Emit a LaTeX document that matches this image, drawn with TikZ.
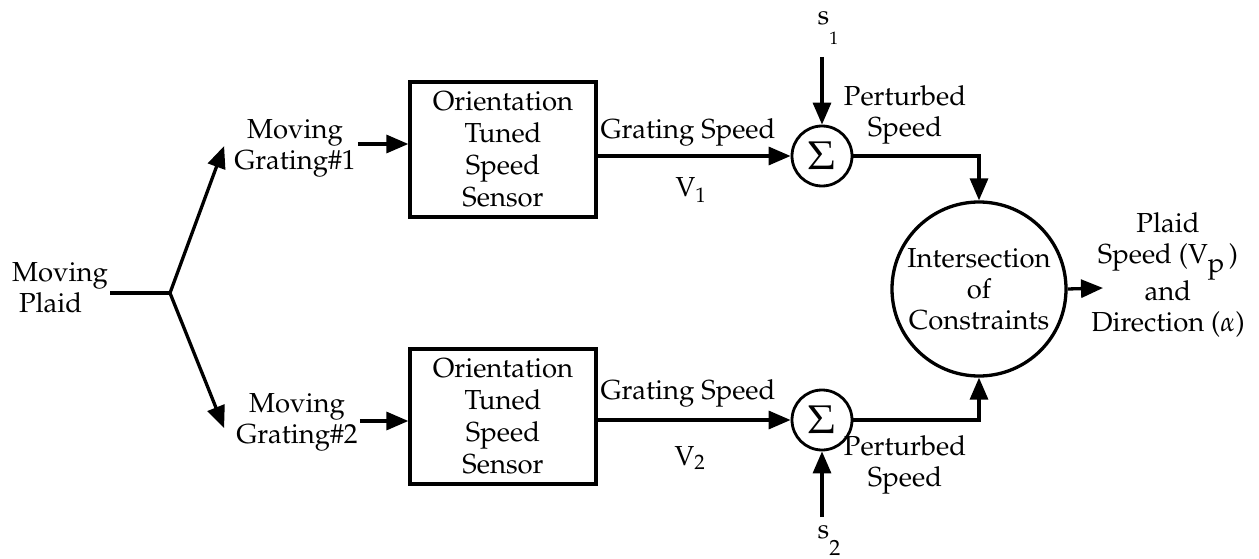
\documentclass[tikz,border=0pt]{standalone}
\usepackage[T1]{fontenc}
\usepackage{mathpazo}
\usetikzlibrary{arrows.meta}
\tikzset{
  lbl/.style={font=\fontsize{27.5}{31}\selectfont, align=center, inner sep=2pt},
  ln/.style={line width=3.3pt},
  ar/.style={line width=3.3pt, -{Triangle[length=22pt,width=18pt]}},
  sensor/.style={draw, line width=3.3pt, minimum width=186pt, minimum height=135pt, inner sep=0pt,
    font=\fontsize{27.5}{32}\selectfont, align=center},
  sumc/.style={draw, circle, line width=2.8pt, minimum size=60pt, inner sep=0pt, font=\fontsize{40}{40}\selectfont},
  bigc/.style={draw, circle, line width=3.3pt, minimum size=174pt, inner sep=0pt}
}
\begin{document}
\begin{tikzpicture}[x=1pt,y=-1pt]
\useasboundingbox (0,0) rectangle (1259,559);

\node[lbl, align=left] (plaid) at (60,288) {Moving\\\hspace*{7pt}Plaid};
\coordinate (br) at (170,293);

\node[lbl] (g1) at (295,148) {Moving\\Grating\#1};
\node[lbl] (g2) at (297,422) {Moving\\Grating\#2};

\node[sensor] (box1) at (503,149.5) {Orientation\\Tuned\\Speed\\Sensor};
\node[sensor] (box2) at (503,416.5) {Orientation\\Tuned\\Speed\\Sensor};

\node[sumc] (sum1) at (822,156) {$\Sigma$};
\node[sumc] (sum2) at (822,420) {$\Sigma$};

\node[lbl] (gs1) at (688,132) {Grating Speed};
\node[lbl] (v1) at (691,190) {V$_1$};
\node[lbl] (gs2) at (688,393) {Grating Speed};
\node[lbl] (v2) at (690,458) {V$_2$};

\node[lbl] (s1) at (828,28) {s\raisebox{-20pt}{\fontsize{18}{18}\selectfont 1}};
\node[lbl] (s2) at (829,540) {s\raisebox{-17pt}{\fontsize{22}{22}\selectfont 2}};
\coordinate (s1a) at (822,57);
\coordinate (s2a) at (822,517);

\node[lbl] (p1) at (905,115) {Perturbed\\Speed};
\node[lbl] (p2) at (905,465) {Perturbed\\Speed};

\node[bigc] (ioc) at (979,289) {};
\node[lbl] (iocl) at (ioc) {Intersection\\of\\Constraints};

\node[lbl] (out) at (1168,275) {Plaid\\Speed~(V\raisebox{-9pt}{p}\,)\\and\\Direction~($\alpha$)};
\coordinate (outtip) at (1103,288);

% connectors
\draw[ln] (br -| plaid.east) -- (br);
\draw[ar] (br) -- ([xshift=-8pt,yshift=2pt]g1.west);
\draw[ar] (br) -- ([xshift=-10pt,yshift=-6pt]g2.west);
\draw[ar] ([yshift=4pt]g1.east) -- ([yshift=4pt]g1.east -| box1.west);
\draw[ar] ([yshift=1pt]g2.east) -- ([yshift=1pt]g2.east -| box2.west);
\draw[ar] (box1.east |- sum1.west) -- (sum1.west);
\draw[ar] (box2.east |- sum2.west) -- (sum2.west);
\draw[ar] (s1a) -- (sum1.north);
\draw[ar] (s2a) -- (sum2.south);
\draw[ar] (sum1.east) -| (ioc.north);
\draw[ar] (sum2.east) -| (ioc.south);
\draw[ar] (ioc.east) -- (outtip);
\end{tikzpicture}
\end{document}
